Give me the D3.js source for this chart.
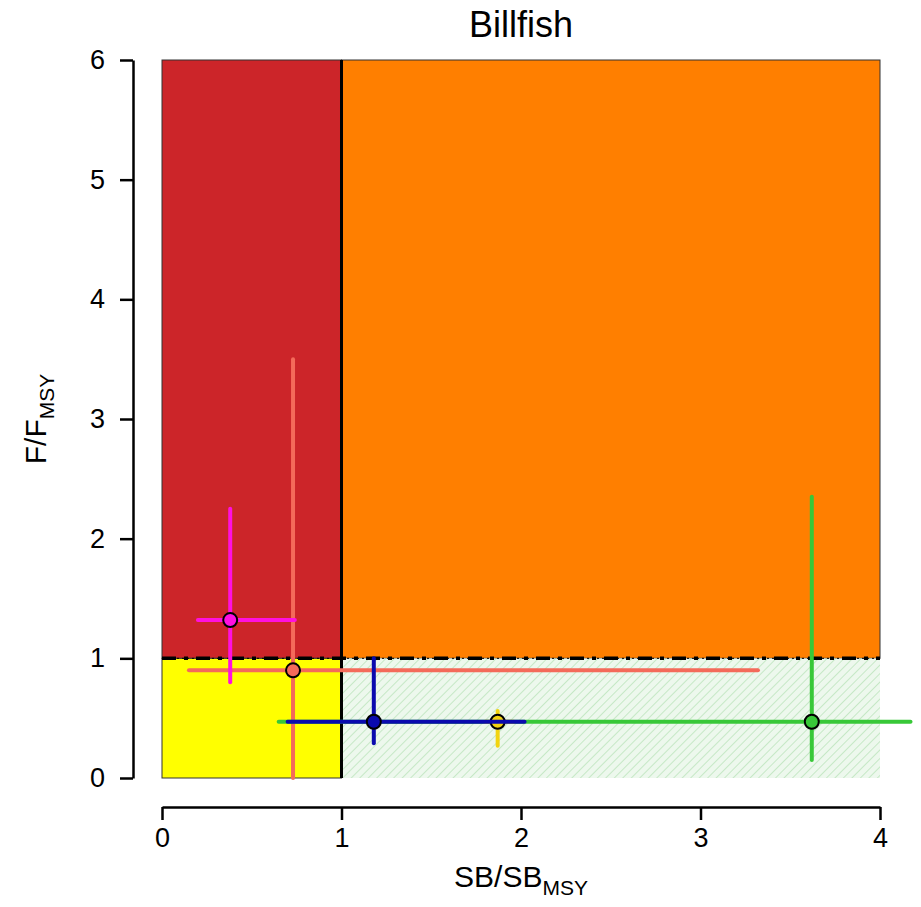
<!DOCTYPE html>
<html>
<head>
<meta charset="utf-8">
<script src="https://cdn.jsdelivr.net/npm/d3@7"></script>
<style>
  body { margin: 0; background: #fff; }
  svg { font-family: "Liberation Sans", Arial, sans-serif; }
</style>
</head>
<body>
<svg id="chart" width="921" height="907"></svg>
<script>
// kobe-style plot, one cross per stock
var xTicks = [0, 1, 2, 3, 4];
var yTicks = [0, 1, 2, 3, 4, 5, 6];

var stockColors = ["#F46A5A", "#38C838", "#F2D410", "#0A0AAE", "#FF10E0"];
var sbEst  = [0.73, 3.62, 1.87, 1.18, 0.38];
var sbLow  = [0.15, 0.65, 1.80, 0.70, 0.20];
var sbHigh = [3.32, 4.17, 1.96, 2.02, 0.74];
var fEst   = [0.90, 0.47, 0.47, 0.47, 1.32];
var fLow   = [0.00, 0.15, 0.27, 0.29, 0.80];
var fHigh  = [3.50, 2.35, 0.56, 1.00, 2.25];

var svg = d3.select("#chart");

var x = d3.scaleLinear().domain([0, 4]).range([162, 880]);
var y = d3.scaleLinear().domain([0, 6]).range([778, 60]);

// hatch for the lower right box
var defs = svg.append("defs");
var pat = defs.append("pattern")
    .attr("id", "hatch")
    .attr("patternUnits", "userSpaceOnUse")
    .attr("width", 6).attr("height", 6)
    .attr("patternTransform", "rotate(45)");
pat.append("rect").attr("width", 6).attr("height", 6).attr("fill", "#EDF8ED");
pat.append("line").attr("x1", 0).attr("y1", 0).attr("x2", 0).attr("y2", 6)
    .attr("stroke", "#C6E8C6").attr("stroke-width", 2);

var zones = [
    {x0: 0, x1: 1, y0: 1, y1: 6, fill: "#CC2529", stroke: "#333"},
    {x0: 1, x1: 4, y0: 1, y1: 6, fill: "#FF7F00", stroke: "#333"},
    {x0: 0, x1: 1, y0: 0, y1: 1, fill: "#FFFF00", stroke: "#333"},
    {x0: 1, x1: 4, y0: 0, y1: 1, fill: "url(#hatch)", stroke: "none"}
];

svg.selectAll("rect.zone")
    .data(zones)
    .enter()
    .append("rect")
    .attr("class", "zone")
    .attr("x", function(d) { return x(d.x0); })
    .attr("y", function(d) { return y(d.y1); })
    .attr("width", function(d) { return x(d.x1) - x(d.x0); })
    .attr("height", function(d) { return y(d.y0) - y(d.y1); })
    .attr("fill", function(d) { return d.fill; })
    .attr("stroke", function(d) { return d.stroke; })
    .attr("stroke-width", 1);

// reference lines at 1
svg.append("line")
    .attr("x1", x(1)).attr("x2", x(1))
    .attr("y1", y(0)).attr("y2", y(6))
    .attr("stroke", "#000").attr("stroke-width", 3);

svg.append("line")
    .attr("x1", x(0)).attr("x2", x(4))
    .attr("y1", y(1)).attr("y2", y(1))
    .attr("stroke", "#000").attr("stroke-width", 1)
    .attr("stroke-dasharray", "2,3");
svg.append("line")
    .attr("x1", x(0)).attr("x2", x(4))
    .attr("y1", y(1)).attr("y2", y(1))
    .attr("stroke", "#000").attr("stroke-width", 3.5)
    .attr("stroke-dasharray", "14,8,4,8");

// crosses: lines first, then the point, stock by stock
var idx = d3.range(sbEst.length);
var g = svg.selectAll("g.stock")
    .data(idx)
    .enter()
    .append("g")
    .attr("class", "stock");

g.append("line")
    .attr("x1", function(i) { return x(sbLow[i]); })
    .attr("x2", function(i) { return x(sbHigh[i]); })
    .attr("y1", function(i) { return y(fEst[i]); })
    .attr("y2", function(i) { return y(fEst[i]); })
    .attr("stroke", function(i) { return stockColors[i]; })
    .attr("stroke-width", 4)
    .attr("stroke-linecap", "round");

g.append("line")
    .attr("x1", function(i) { return x(sbEst[i]); })
    .attr("x2", function(i) { return x(sbEst[i]); })
    .attr("y1", function(i) { return y(fLow[i]); })
    .attr("y2", function(i) { return y(fHigh[i]); })
    .attr("stroke", function(i) { return stockColors[i]; })
    .attr("stroke-width", 4)
    .attr("stroke-linecap", "round");

g.append("circle")
    .attr("cx", function(i) { return x(sbEst[i]); })
    .attr("cy", function(i) { return y(fEst[i]); })
    .attr("r", 7)
    .attr("fill", function(i) { return stockColors[i]; })
    .attr("stroke", "#000")
    .attr("stroke-width", 2);

// axes, R style (detached from the box)
var xAxis = svg.append("g")
    .attr("transform", "translate(0,807)")
    .call(d3.axisBottom(x).tickValues(xTicks).tickFormat(d3.format("d"))
        .tickSize(13).tickPadding(8).tickSizeOuter(0));
var yAxis = svg.append("g")
    .attr("transform", "translate(133,0)")
    .call(d3.axisLeft(y).tickValues(yTicks).tickFormat(d3.format("d"))
        .tickSize(13).tickPadding(15).tickSizeOuter(0));

[xAxis, yAxis].forEach(function(ax) {
    ax.attr("font-size", null).attr("font-family", null);
    ax.select(".domain").attr("stroke", "#000").attr("stroke-width", 2.5);
    ax.selectAll(".tick line").attr("stroke", "#000").attr("stroke-width", 2.5);
    ax.selectAll(".tick text")
        .attr("fill", "#000")
        .style("font-size", "27px");
});

// title and axis labels
svg.append("text")
    .attr("x", (x(0) + x(4)) / 2).attr("y", 37)
    .attr("text-anchor", "middle")
    .style("font-size", "36px")
    .text("Billfish");

var xl = svg.append("text")
    .attr("x", (x(0) + x(4)) / 2).attr("y", 887)
    .attr("text-anchor", "middle")
    .style("font-size", "30px");
xl.append("tspan").text("SB/SB");
xl.append("tspan").attr("dy", 8).style("font-size", "21px").text("MSY");

var yl = svg.append("text")
    .attr("transform", "translate(46," + ((y(0) + y(6)) / 2) + ") rotate(-90)")
    .attr("text-anchor", "middle")
    .style("font-size", "30px");
yl.append("tspan").text("F/F");
yl.append("tspan").attr("dy", 8).style("font-size", "21px").text("MSY");
</script>
</body>
</html>
